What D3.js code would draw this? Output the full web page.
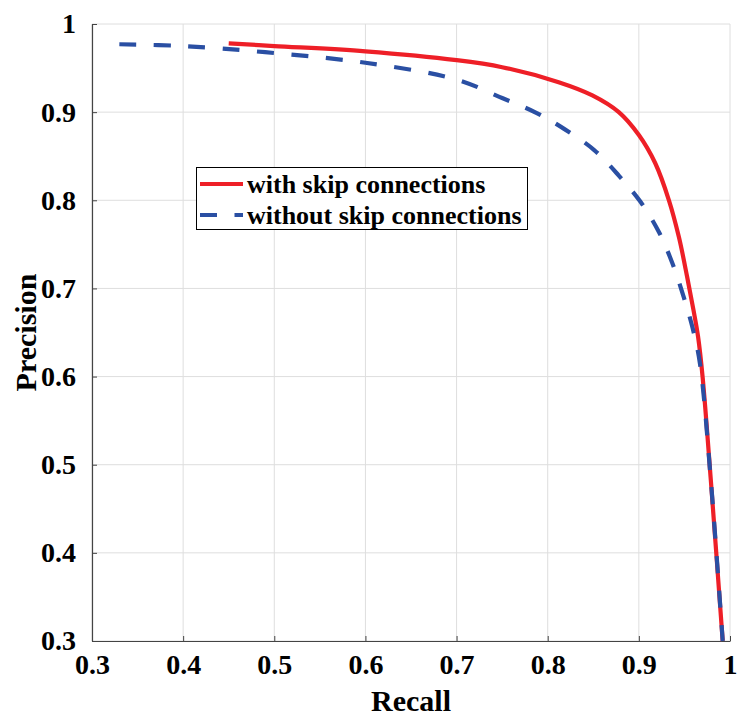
<!DOCTYPE html>
<html>
<head>
<meta charset="utf-8">
<script src="https://cdn.jsdelivr.net/npm/d3@7"></script>
<style>
  html, body { margin: 0; padding: 0; background: #fff; }
  svg { display: block; }
  text { font-family: "Liberation Serif", "Times New Roman", serif; font-weight: bold; fill: #000; }
</style>
</head>
<body>
<svg id="chart" width="738" height="719"></svg>
<script>
// Precision-recall curves
const recallWith    = [0.45, 0.50, 0.60, 0.70, 0.75, 0.812, 0.849, 0.878, 0.90, 0.918, 0.933, 0.944, 0.953, 0.960, 0.965, 0.970, 0.979, 0.992];
const precisionWith = [0.978, 0.975, 0.969, 0.959, 0.951, 0.934, 0.919, 0.900, 0.874, 0.842, 0.800, 0.758, 0.713, 0.675, 0.645, 0.599, 0.482, 0.300];

const recallWithout    = [0.33, 0.40, 0.49, 0.60, 0.70, 0.75, 0.788, 0.818, 0.851, 0.878, 0.902, 0.922, 0.937, 0.949, 0.959, 0.967, 0.979, 0.992];
const precisionWithout = [0.977, 0.975, 0.968, 0.956, 0.937, 0.916, 0.899, 0.881, 0.857, 0.828, 0.798, 0.764, 0.728, 0.691, 0.655, 0.615, 0.482, 0.300];

const xTicks = [0.3, 0.4, 0.5, 0.6, 0.7, 0.8, 0.9, 1];
const yTicks = [0.3, 0.4, 0.5, 0.6, 0.7, 0.8, 0.9, 1];
const seriesNames = ["with skip connections", "without skip connections"];

const svg = d3.select("#chart");
const plotLeft = 92, plotRight = 730, plotTop = 24, plotBottom = 641;

const x = d3.scaleLinear().domain([0.3, 1]).range([plotLeft, plotRight]);
const y = d3.scaleLinear().domain([0.3, 1]).range([plotBottom, plotTop]);

// grid
const grid = svg.append("g");
grid.selectAll(".gx").data(xTicks).join("line")
  .attr("x1", d => x(d)).attr("x2", d => x(d))
  .attr("y1", plotTop).attr("y2", plotBottom)
  .attr("stroke", "#dedede").attr("stroke-width", 1);
grid.selectAll(".gy").data(yTicks).join("line")
  .attr("y1", d => y(d)).attr("y2", d => y(d))
  .attr("x1", plotLeft).attr("x2", plotRight)
  .attr("stroke", "#dedede").attr("stroke-width", 1);

// axes
const xAxis = d3.axisBottom(x).tickValues(xTicks).tickSizeInner(-5).tickSizeOuter(0)
  .tickPadding(13).tickFormat(d => d === 1 ? "1" : d3.format(".1f")(d));
const yAxis = d3.axisLeft(y).tickValues(yTicks).tickSizeInner(-5).tickSizeOuter(0)
  .tickPadding(16).tickFormat(d => d === 1 ? "1" : d3.format(".1f")(d));

const gx = svg.append("g").attr("transform", `translate(0,${plotBottom})`).call(xAxis);
const gy = svg.append("g").attr("transform", `translate(${plotLeft},0)`).call(yAxis);
[gx, gy].forEach(g => {
  g.select(".domain").attr("stroke", "#444").attr("stroke-width", 1.2);
  g.selectAll(".tick line").attr("stroke", "#444");
  g.selectAll(".tick text").attr("font-size", 28)
    .attr("font-family", "Liberation Serif, serif").attr("font-weight", "bold").attr("fill", "#000");
});
gx.selectAll(".tick text").attr("dy", "0.71em");

// curves
const line = d3.line().x(d => x(d[0])).y(d => y(d[1])).curve(d3.curveCatmullRom.alpha(0.5));
const redColor = "#ee1f27", blueColor = "#2a4fa3";

svg.append("path")
  .datum(d3.zip(recallWith, precisionWith))
  .attr("d", line).attr("fill", "none")
  .attr("stroke", redColor).attr("stroke-width", 4.2);

svg.append("path")
  .datum(d3.zip(recallWithout, precisionWithout))
  .attr("d", line).attr("fill", "none")
  .attr("stroke", blueColor).attr("stroke-width", 4.2)
  .attr("stroke-dasharray", "17,17.5");

// axis labels
svg.append("text").attr("x", (plotLeft + plotRight) / 2).attr("y", 711)
  .attr("text-anchor", "middle").attr("font-size", 30).text("Recall");
svg.append("text").attr("transform", `translate(36,${(plotTop + plotBottom) / 2}) rotate(-90)`)
  .attr("text-anchor", "middle").attr("font-size", 30).text("Precision");

// legend
const lg = svg.append("g");
lg.append("rect").attr("x", 196.5).attr("y", 167.5).attr("width", 331).attr("height", 62)
  .attr("fill", "#fff").attr("stroke", "#000").attr("stroke-width", 1);
const rows = [
  { name: seriesNames[0], color: redColor, dash: null, cy: 184 },
  { name: seriesNames[1], color: blueColor, dash: "17,17.5", cy: 215 }
];
rows.forEach(r => {
  lg.append("line").attr("x1", 200).attr("x2", 243).attr("y1", r.cy).attr("y2", r.cy)
    .attr("stroke", r.color).attr("stroke-width", 4.2)
    .attr("stroke-dasharray", r.dash);
  lg.append("text").attr("x", 247).attr("y", r.cy).attr("dy", "0.33em")
    .attr("font-size", 26).text(r.name);
});
</script>
</body>
</html>
